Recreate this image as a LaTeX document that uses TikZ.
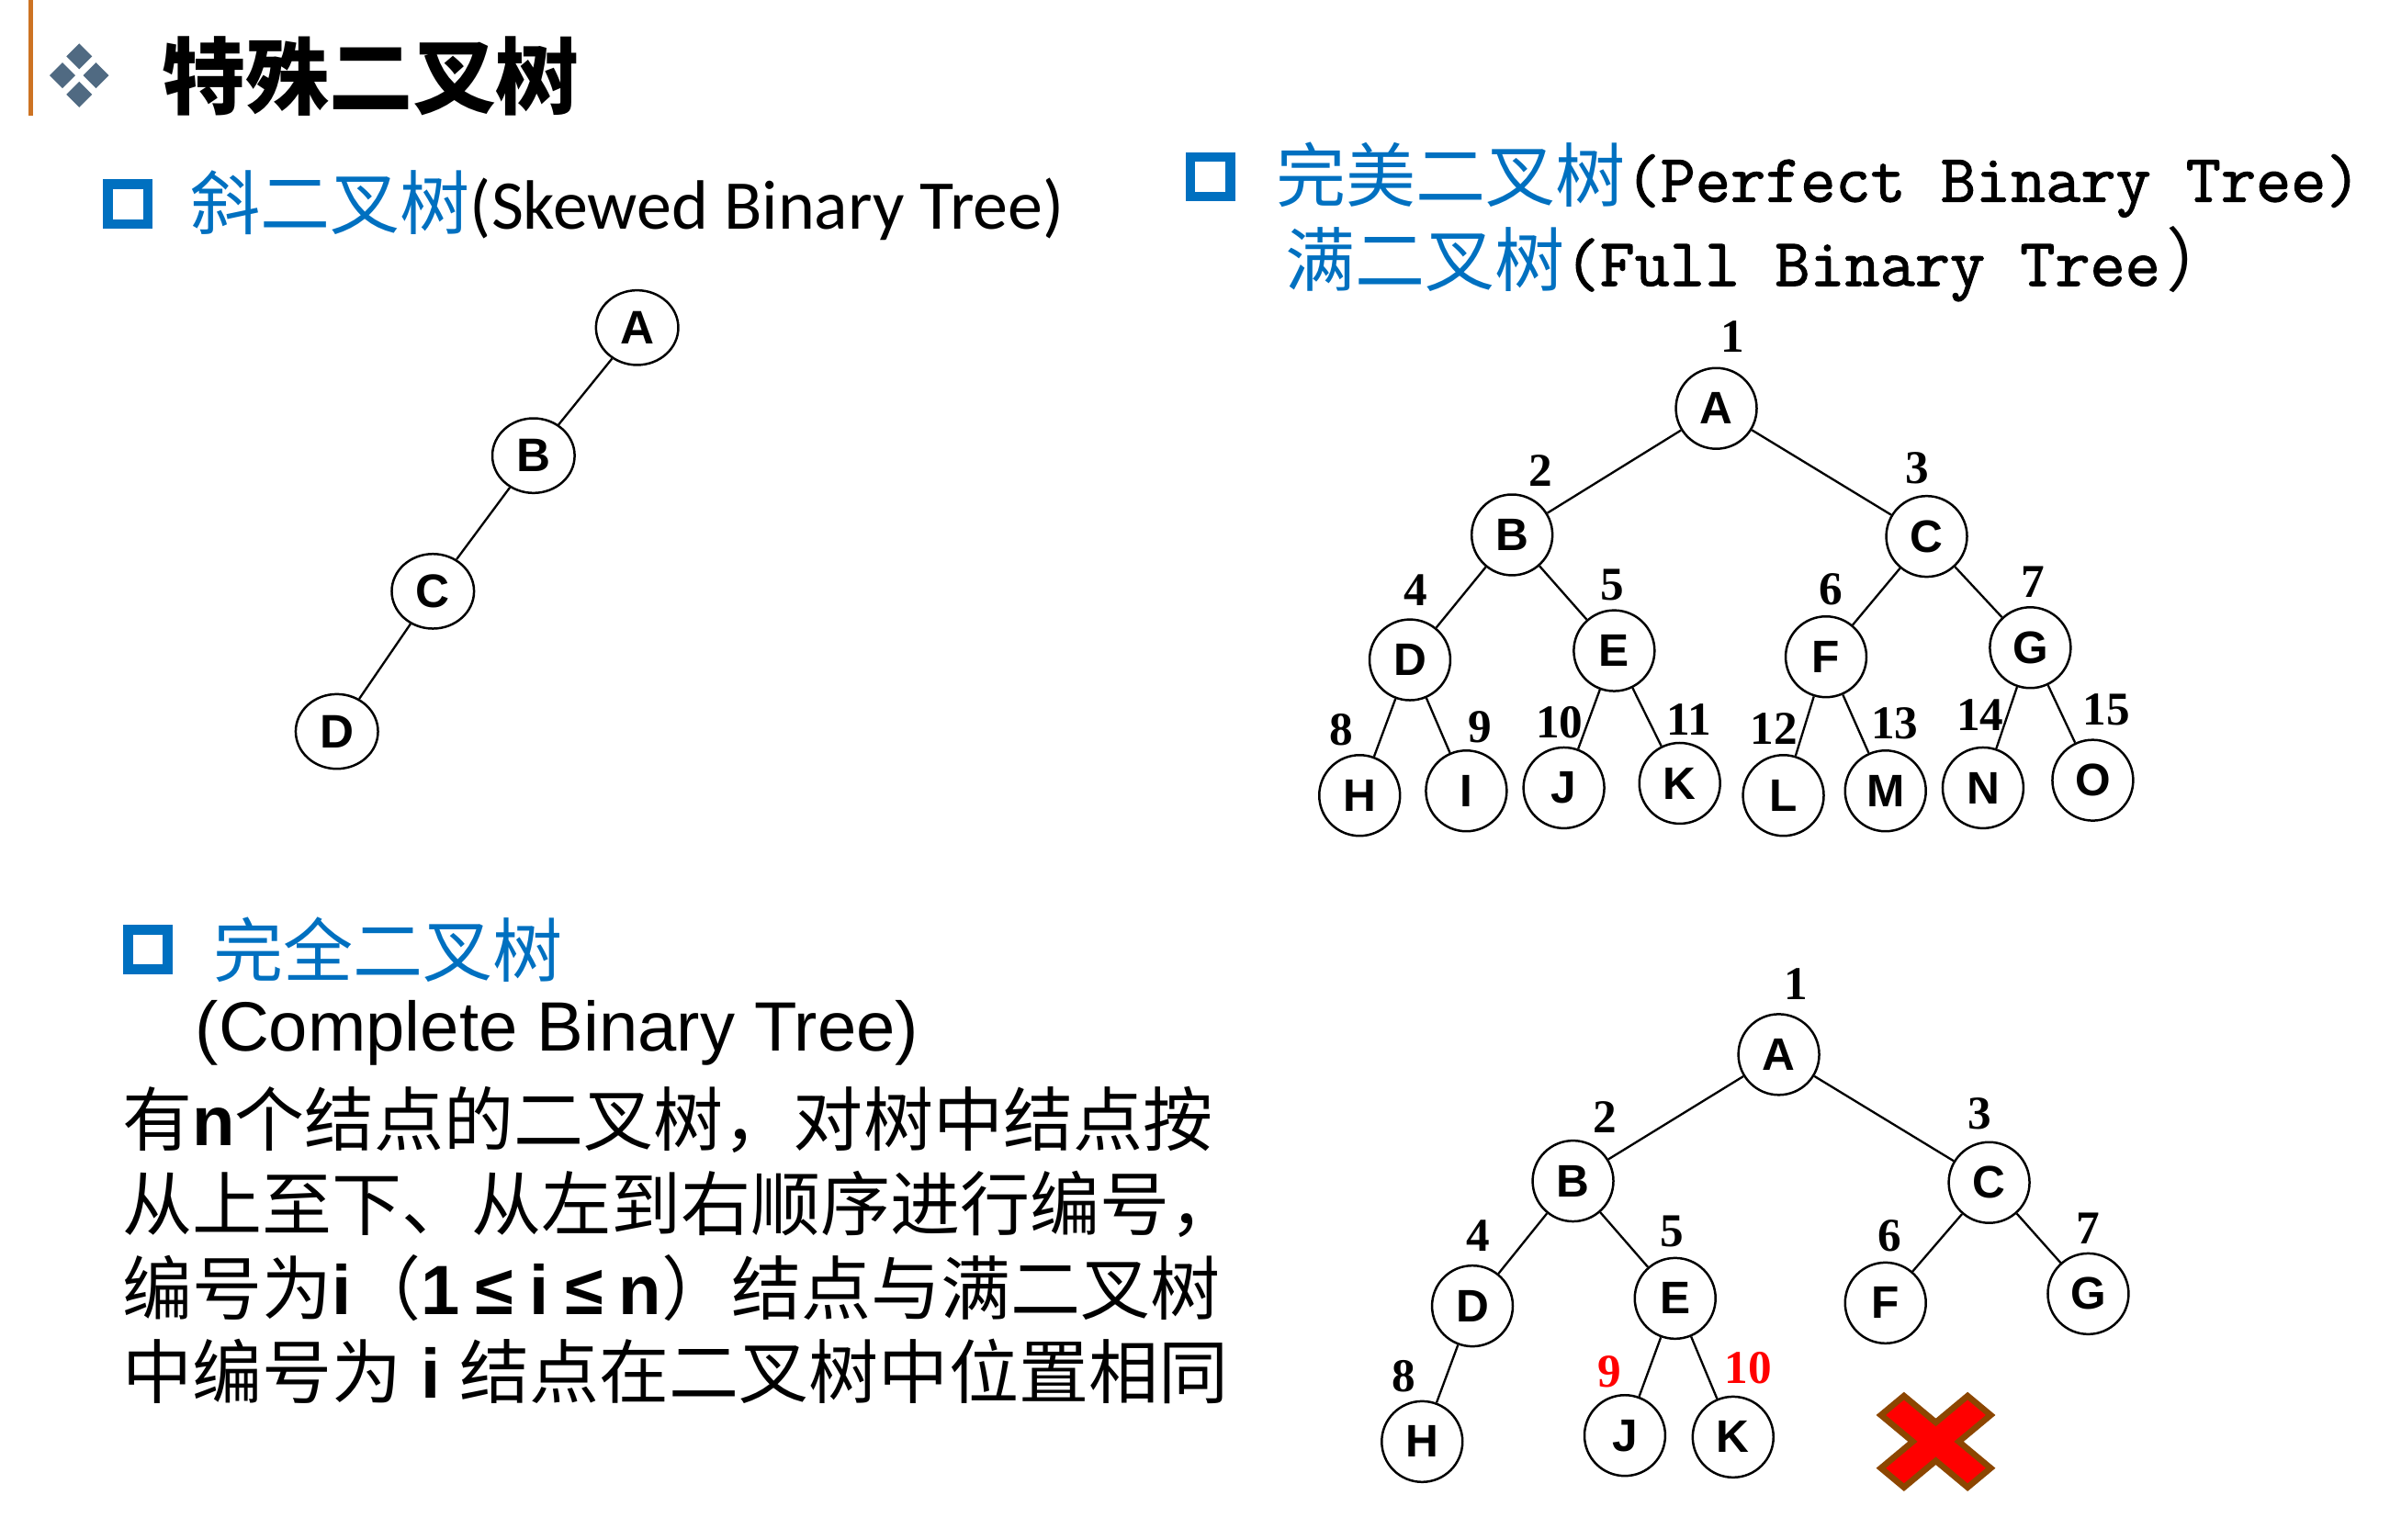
\documentclass[tikz,border=0pt]{standalone}
\usepackage{fontspec}
\setmainfont{Noto Sans CJK SC}
\newfontfamily\arial{Liberation Sans}
\newfontfamily\timesf{Liberation Serif}
\newfontfamily\calib{Carlito}
\newfontfamily\monof{Latin Modern Mono}[FakeBold=1.5]
\usetikzlibrary{shapes.geometric}
\definecolor{headblue}{RGB}{0,112,192}
\definecolor{bargold}{RGB}{205,115,35}
\definecolor{gemgrey}{RGB}{80,106,130}
\definecolor{crossbrown}{RGB}{140,70,0}
\newcommand{\ltn}[1]{{\arial\bfseries #1}}
\newcommand{\leqbox}{\makebox[1em]{\arial\bfseries ≤}}

\begin{document}
\begin{tikzpicture}[
  x=1bp, y=-1bp,
  skewnode/.style={ellipse, draw, line width=1.5bp, minimum width=54bp, minimum height=49bp, inner sep=0pt, font=\arial\bfseries\fontsize{31}{31}\selectfont},
  treenode/.style={circle, draw, line width=1.5bp, minimum size=53bp, inner sep=0pt, font=\arial\bfseries\fontsize{30}{30}\selectfont},
  numlab/.style={inner sep=0pt, font=\timesf\bfseries\fontsize{31}{31}\selectfont},
  redlab/.style={numlab, text=red},
  treeline/.style={line width=1.4bp},
  heading/.style={anchor=west, inner sep=0pt, font=\fontsize{46}{50}\selectfont},
  bodyline/.style={anchor=west, inner sep=0pt, font=\fontsize{46}{50}\selectfont},
  hollowbox/.style={draw=headblue, line width=6.5bp, minimum size=26bp, inner sep=0pt},
  gem/.style={diamond, fill=gemgrey, minimum size=17bp, inner sep=0pt}
]
\useasboundingbox (0,0) rectangle (1568,1010);

% page title
\fill[bargold] (18.5,0) rectangle (21.5,76);
\node[gem] (gemT) at (52,37) {};
\node[gem] (gemL) at (41,49.5) {};
\node[gem] (gemR) at (63,49.5) {};
\node[gem] (gemB) at (52,62) {};
\node[anchor=west, inner sep=0pt, font=\bfseries\fontsize{55}{60}\selectfont] (title) at (106,50) {特殊二叉树};

% skewed tree
\node[hollowbox] (skewbox) at (84,134) {};
\node[heading] (skewhead) at (125,135) {\textcolor{headblue}{斜二叉树}{\calib(Skewed Binary Tree)}};
\node[skewnode] (sA) at (418,215) {A};
\node[skewnode] (sB) at (350,299) {B};
\node[skewnode] (sC) at (284,388) {C};
\node[skewnode] (sD) at (221,480) {D};
\draw[treeline] (sA)--(sB); \draw[treeline] (sB)--(sC); \draw[treeline] (sC)--(sD);

% perfect / full tree
\node[hollowbox] (perfbox) at (794,116) {};
\node[heading] (perfhead) at (837,118) {\textcolor{headblue}{完美二叉树}{\monof\fontsize{44.8}{50}\selectfont(Perfect Binary Tree)}};
\node[heading] (fullhead) at (843,173) {\textcolor{headblue}{满二叉树}{\monof\fontsize{44.8}{50}\selectfont(Full Binary Tree}\hspace{4bp}）};
\node[treenode] (pA) at (1126,268) {A}; \node[numlab] (pn1) at (1137,221) {1};
\node[treenode] (pB) at (992,351) {B};  \node[numlab] (pn2) at (1011,309) {2};
\node[treenode] (pC) at (1264,352) {C}; \node[numlab] (pn3) at (1258,307) {3};
\node[treenode] (pD) at (925,433) {D};  \node[numlab] (pn4) at (929,387) {4};
\node[treenode] (pE) at (1059,427) {E}; \node[numlab] (pn5) at (1058,384) {5};
\node[treenode] (pF) at (1198,431) {F}; \node[numlab] (pn6) at (1201,387) {6};
\node[treenode] (pG) at (1332,425) {G}; \node[numlab] (pn7) at (1334,382) {7};
\node[treenode] (pH) at (892,522) {H};  \node[numlab] (pn8) at (880,479) {8};
\node[treenode] (pI) at (962,519) {I};  \node[numlab] (pn9) at (971,477) {9};
\node[treenode] (pJ) at (1026,517) {J}; \node[numlab] (pn10) at (1023,474) {10};
\node[treenode] (pK) at (1102,514) {K}; \node[numlab] (pn11) at (1108,472) {11};
\node[treenode] (pL) at (1170,522) {L}; \node[numlab] (pn12) at (1164,478) {12};
\node[treenode] (pM) at (1237,519) {M}; \node[numlab] (pn13) at (1243,475) {13};
\node[treenode] (pN) at (1301,517) {N}; \node[numlab] (pn14) at (1299,469) {14};
\node[treenode] (pO) at (1373,512) {O}; \node[numlab] (pn15) at (1382,466) {15};
\draw[treeline] (pA)--(pB); \draw[treeline] (pA)--(pC);
\draw[treeline] (pB)--(pD); \draw[treeline] (pB)--(pE);
\draw[treeline] (pC)--(pF); \draw[treeline] (pC)--(pG);
\draw[treeline] (pD)--(pH); \draw[treeline] (pD)--(pI);
\draw[treeline] (pE)--(pJ); \draw[treeline] (pE)--(pK);
\draw[treeline] (pF)--(pL); \draw[treeline] (pF)--(pM);
\draw[treeline] (pG)--(pN); \draw[treeline] (pG)--(pO);

% complete tree
\node[hollowbox] (compbox) at (97,623) {};
\node[heading] (comphead) at (140,623) {\textcolor{headblue}{完全二叉树}};
\node[bodyline, font=\arial\fontsize{46}{50}\selectfont] (compsub) at (128,678) {(Complete Binary Tree)};
\node[bodyline] (body1) at (80,735) {有\ltn{n}个结点的二叉树，对树中结点按};
\node[bodyline] (body2) at (80,790) {从上至下、从左到右顺序进行编号，};
\node[bodyline] (body3) at (80,845) {编号为\ltn{i}（\ltn{1}\leqbox\ltn{i}\leqbox\ltn{n}）结点与满二叉树};
\node[bodyline] (body4) at (80,900) {中编号为\ltn{\ i\ }结点在二叉树中位置相同};

\node[treenode] (cA) at (1167,692) {A}; \node[numlab] (cn1) at (1178,646) {1};
\node[treenode] (cB) at (1032,775) {B}; \node[numlab] (cn2) at (1053,733) {2};
\node[treenode] (cC) at (1305,776) {C}; \node[numlab] (cn3) at (1299,731) {3};
\node[treenode] (cD) at (966,857) {D};  \node[numlab] (cn4) at (970,811) {4};
\node[treenode] (cE) at (1099,852) {E}; \node[numlab] (cn5) at (1097,808) {5};
\node[treenode] (cF) at (1237,855) {F}; \node[numlab] (cn6) at (1240,811) {6};
\node[treenode] (cG) at (1370,849) {G}; \node[numlab] (cn7) at (1370,806) {7};
\node[treenode] (cH) at (933,946) {H};  \node[numlab] (cn8) at (921,903) {8};
\node[treenode] (cJ) at (1066,942) {J}; \node[redlab] (cn9) at (1056,900) {9};
\node[treenode] (cK) at (1137,943) {K}; \node[redlab] (cn10) at (1147,898) {10};
\draw[treeline] (cA)--(cB); \draw[treeline] (cA)--(cC);
\draw[treeline] (cB)--(cD); \draw[treeline] (cB)--(cE);
\draw[treeline] (cC)--(cF); \draw[treeline] (cC)--(cG);
\draw[treeline] (cD)--(cH);
\draw[treeline] (cE)--(cJ); \draw[treeline] (cE)--(cK);

% red cross
\begin{scope}[shift={(1270,946)}, x=36bp, y=30bp]
\draw[crossbrown, fill=red, line width=4bp, line join=miter]
  (-1,-0.58) -- (-0.58,-1) -- (0,-0.42) -- (0.58,-1) -- (1,-0.58) -- (0.42,0) --
  (1,0.58) -- (0.58,1) -- (0,0.42) -- (-0.58,1) -- (-1,0.58) -- (-0.42,0) -- cycle;
\end{scope}
\end{tikzpicture}
\end{document}
